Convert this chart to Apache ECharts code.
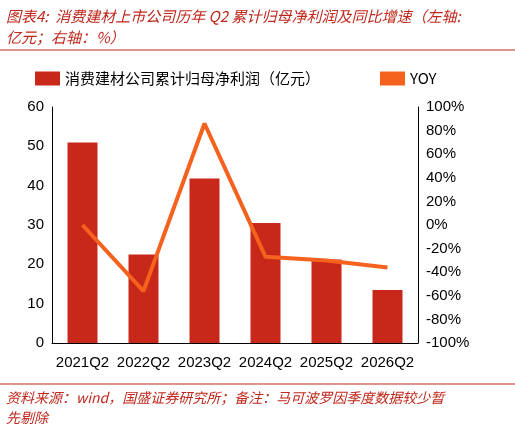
<!DOCTYPE html><html><head><meta charset="utf-8"><script src="https://cdn.jsdelivr.net/npm/echarts@6/dist/echarts.min.js"></script>
<style>body{margin:0}#c{width:515px;height:432px}</style></head><body><div id="c"></div><script>
const categories=['2021Q2','2022Q2','2023Q2','2024Q2','2025Q2','2026Q2'];
const profit=[51,22.5,41.8,30.5,21.2,13.5];
const yoy=[0,-56,86,-27,-30,-36];
const c=echarts.init(document.getElementById('c'));
const red='#c0281c';
c.setOption({
graphic:[
{type:'text',left:6,top:6,style:{text:'图表4:  消费建材上市公司历年 Q2 累计归母净利润及同比增速（左轴:\n亿元；右轴：%）',fill:red,font:'italic 15px "Noto Sans CJK SC"',lineHeight:21}},
{type:'line',shape:{x1:0,y1:50,x2:515,y2:50},style:{stroke:red,lineWidth:1}},
{type:'line',shape:{x1:0,y1:384,x2:515,y2:384},style:{stroke:red,lineWidth:1}},
{type:'text',left:6,top:388,style:{text:'资料来源：wind，国盛证券研究所；备注：马可波罗因季度数据较少暂\n先剔除',fill:red,font:'italic 14px "Noto Sans CJK SC"',lineHeight:20}}
],
legend:{top:66,left:30,itemGap:60,textStyle:{fontSize:15,color:'#000',fontFamily:'Noto Sans CJK SC'},
data:[{name:'消费建材公司累计归母净利润（亿元）',icon:'rect',itemWidth:52,itemHeight:13},{name:'YOY',icon:'rect',itemWidth:40,itemHeight:5}]},
grid:{left:52,right:97,top:107,bottom:89},
xAxis:{type:'category',data:categories,axisTick:{show:false},axisLine:{lineStyle:{color:'#000'}},axisLabel:{color:'#000',fontSize:15,margin:12,interval:0}},
yAxis:[{type:'value',min:0,max:60,interval:10,splitLine:{show:false},axisLine:{show:true,lineStyle:{color:'#000'}},axisLabel:{color:'#000',fontSize:15}},
{type:'value',min:-100,max:100,interval:20,splitLine:{show:false},axisLine:{show:true,lineStyle:{color:'#000'}},axisLabel:{color:'#000',fontSize:15,formatter:'{value}%'}}],
series:[{name:'消费建材公司累计归母净利润（亿元）',type:'bar',data:profit,barWidth:30,itemStyle:{color:'#c8281a'}},
{name:'YOY',type:'line',yAxisIndex:1,data:yoy,symbol:'none',lineStyle:{color:'#f4621d',width:4},itemStyle:{color:'#f4621d'}}]
});
</script></body></html>
